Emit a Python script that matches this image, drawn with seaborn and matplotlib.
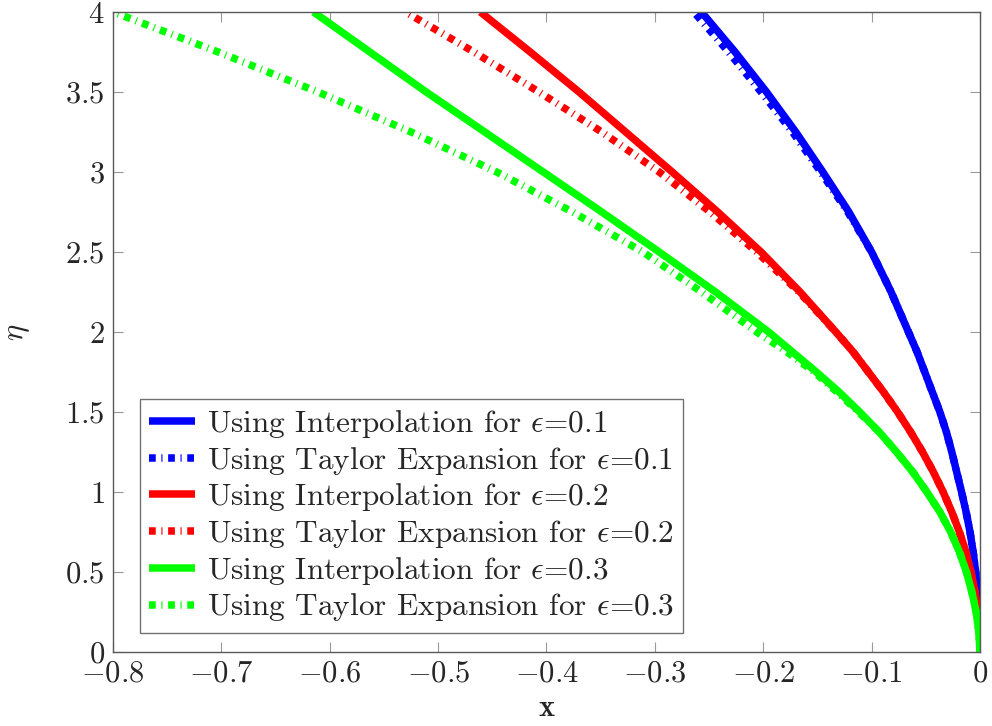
import pandas as pd
import matplotlib
matplotlib.use("Agg")
import matplotlib.pyplot as plt
from matplotlib.ticker import FuncFormatter, MultipleLocator
import seaborn as sns

eta = [0, 0.125, 0.25, 0.375, 0.5, 0.625, 0.75, 0.875, 1.0,
       1.125, 1.25, 1.375, 1.5, 1.625, 1.75, 1.875, 2.0,
       2.25, 2.5, 2.75, 3.0, 3.25, 3.5, 3.75, 4.0]

# x positions of each curve at those eta levels
interp_01 = [0, -0.0003, -0.001, -0.0022, -0.004, -0.0063, -0.0092, -0.0128, -0.017,
             -0.0215, -0.026, -0.031, -0.037, -0.044, -0.051, -0.058, -0.066,
             -0.082, -0.100, -0.121, -0.145, -0.170, -0.197, -0.226, -0.257]
taylor_01 = [0, -0.0003, -0.001, -0.0022, -0.004, -0.0063, -0.0092, -0.0128, -0.017,
             -0.0215, -0.026, -0.031, -0.037, -0.044, -0.051, -0.058, -0.066,
             -0.082, -0.100, -0.122, -0.147, -0.173, -0.202, -0.232, -0.264]
interp_02 = [0, -0.0005, -0.002, -0.0046, -0.0083, -0.013, -0.019, -0.026, -0.034,
             -0.043, -0.053, -0.064, -0.076, -0.089, -0.103, -0.117, -0.133,
             -0.166, -0.202, -0.242, -0.284, -0.327, -0.370, -0.415, -0.461]
taylor_02 = [0, -0.0005, -0.002, -0.0046, -0.0083, -0.013, -0.019, -0.026, -0.034,
             -0.043, -0.053, -0.064, -0.076, -0.089, -0.103, -0.117, -0.133,
             -0.167, -0.206, -0.249, -0.296, -0.349, -0.407, -0.467, -0.530]
interp_03 = [0, -0.001, -0.0035, -0.0075, -0.0125, -0.019, -0.027, -0.037, -0.049,
             -0.062, -0.077, -0.093, -0.111, -0.130, -0.151, -0.173, -0.195,
             -0.244, -0.296, -0.349, -0.403, -0.457, -0.511, -0.563, -0.615]
taylor_03 = [0, -0.001, -0.0035, -0.0075, -0.0125, -0.019, -0.027, -0.037, -0.049,
             -0.062, -0.077, -0.093, -0.112, -0.132, -0.153, -0.178, -0.206,
             -0.257, -0.311, -0.376, -0.446, -0.525, -0.611, -0.703, -0.800]

labels = [r"Using Interpolation for $\epsilon$=0.1",
          r"Using Taylor Expansion for $\epsilon$=0.1",
          r"Using Interpolation for $\epsilon$=0.2",
          r"Using Taylor Expansion for $\epsilon$=0.2",
          r"Using Interpolation for $\epsilon$=0.3",
          r"Using Taylor Expansion for $\epsilon$=0.3"]
series = [interp_01, taylor_01, interp_02, taylor_02, interp_03, taylor_03]
colors = ["#0000ff", "#0000ff", "#ff0000", "#ff0000", "#00ff00", "#00ff00"]
dashdot = (0, (0.9, 0.75, 0.15, 0.75))
styles = ["-", dashdot, "-", dashdot, "-", dashdot]

sns.set_style("ticks")
plt.rcParams["font.family"] = ["cmr10", "DejaVu Serif"]
plt.rcParams["mathtext.fontset"] = "cm"
plt.rcParams["axes.formatter.use_mathtext"] = True
plt.rcParams["axes.unicode_minus"] = True

fig = plt.figure(figsize=(9.92, 7.26), dpi=100)
ax = fig.add_axes([0.1139, 0.1019, 0.8740, 0.8816])

for xs, lab, col, ls in zip(series, labels, colors, styles):
    df = pd.DataFrame({"x": xs, "eta": eta})
    sns.lineplot(data=df, x="x", y="eta", ax=ax, sort=False, estimator=None,
                 color=col, linestyle=ls, linewidth=5.4, label=lab,
                 solid_capstyle="butt", dash_capstyle="butt",
                 solid_joinstyle="round")

ax.set_xlim(-0.8, 0)
ax.set_ylim(0, 4)
ax.xaxis.set_major_locator(MultipleLocator(0.1))
ax.yaxis.set_major_locator(MultipleLocator(0.5))
fmt = FuncFormatter(lambda v, _: "$%s$" % (("%.1f" % v).rstrip("0").rstrip(".") if abs(v) > 1e-9 else "0"))
ax.xaxis.set_major_formatter(fmt)
ax.yaxis.set_major_formatter(fmt)
ax.tick_params(direction="in", length=7.5, width=0.8, color="0.6",
               labelsize=22, top=True, right=True, pad=6)
for sp in ax.spines.values():
    sp.set_color("0.35")
    sp.set_linewidth(1.0)

ax.set_xlabel(r"$\mathbf{x}$", fontsize=22, labelpad=5)
ax.set_ylabel(r"$\eta$", fontsize=22, labelpad=24)

leg = ax.legend(loc="lower left", bbox_to_anchor=(0.031, 0.03), borderaxespad=0,
                fontsize=22.5, frameon=True, fancybox=False, handlelength=1.45,
                handletextpad=0.4, labelspacing=0.15, borderpad=0.3)
leg.get_frame().set_edgecolor("0.3")
leg.get_frame().set_linewidth(1.0)

fig.savefig("out.png", dpi=100)
